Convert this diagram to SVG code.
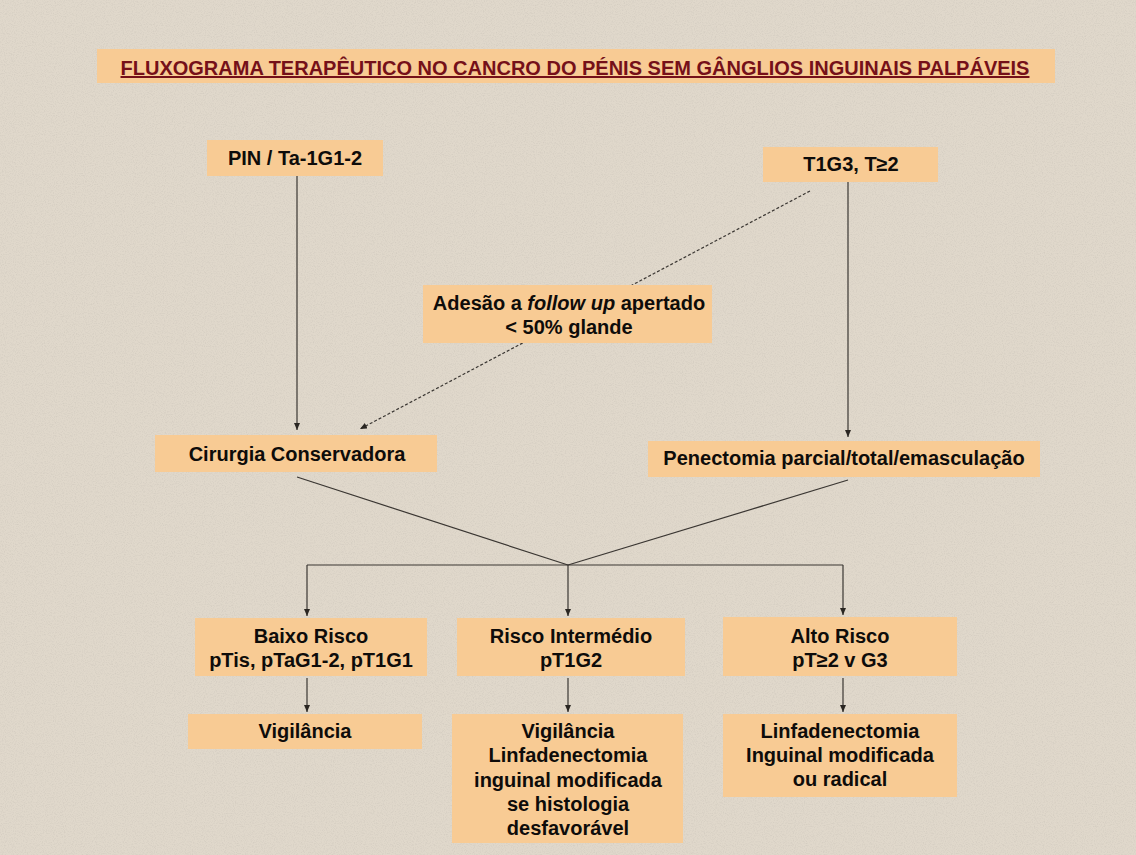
<svg xmlns="http://www.w3.org/2000/svg" width="1136" height="855" viewBox="0 0 1136 855">
  <style>
    .box { fill: #f8cb94; }
    .t { font-family: "Liberation Sans", Arial, sans-serif; font-weight: bold; font-size: 20px; fill: #0e0c0a; text-anchor: middle; }
    .title { font-family: "Liberation Sans", Arial, sans-serif; font-weight: bold; font-size: 20px; fill: #751019; text-anchor: middle; text-decoration: underline; }
    .ln { stroke: #3a3632; stroke-width: 1.2; fill: none; }
    .dash { stroke: #3a3632; stroke-width: 1.2; fill: none; stroke-dasharray: 3 2; }
  </style>
  <defs>
    <marker id="arr" markerUnits="userSpaceOnUse" markerWidth="8" markerHeight="7" refX="7" refY="3" orient="auto">
      <path d="M0,0 L7,3 L0,6 z" fill="#2a2622"/>
    </marker>
    <filter id="grain" x="0" y="0" width="100%" height="100%">
      <feTurbulence type="fractalNoise" baseFrequency="0.9" numOctaves="2" seed="3" result="n"/>
      <feColorMatrix type="matrix" values="0 0 0 0 0.45  0 0 0 0 0.42  0 0 0 0 0.38  0 0 0 -1.6 0.9" in="n" result="c"/>
      <feComposite in="c" in2="SourceGraphic" operator="in"/>
    </filter>
  </defs>

  <rect x="0" y="0" width="1136" height="855" fill="#e0d8cb"/>
  <rect x="0" y="0" width="1136" height="855" fill="#e0d8cb" filter="url(#grain)" opacity="0.35"/>

  <g id="connectors">
    <line class="ln" x1="297" y1="176" x2="297" y2="430" marker-end="url(#arr)"/>
    <line class="ln" x1="848" y1="182" x2="848" y2="437" marker-end="url(#arr)"/>
    <line class="dash" x1="810" y1="191" x2="360" y2="429" marker-end="url(#arr)"/>
    <line class="ln" x1="297" y1="477" x2="568" y2="565"/>
    <line class="ln" x1="848" y1="480" x2="568" y2="565"/>
    <line class="ln" x1="307" y1="565" x2="843" y2="565"/>
    <line class="ln" x1="307" y1="565" x2="307" y2="616" marker-end="url(#arr)"/>
    <line class="ln" x1="568" y1="565" x2="568" y2="616" marker-end="url(#arr)"/>
    <line class="ln" x1="843" y1="565" x2="843" y2="615" marker-end="url(#arr)"/>
    <line class="ln" x1="307" y1="678" x2="307" y2="712" marker-end="url(#arr)"/>
    <line class="ln" x1="568" y1="678" x2="568" y2="712" marker-end="url(#arr)"/>
    <line class="ln" x1="843" y1="678" x2="843" y2="712" marker-end="url(#arr)"/>
  </g>

  <g id="title">
    <rect class="box" x="97" y="49" width="958" height="34"/>
    <text class="title" x="575" y="75">FLUXOGRAMA TERAPÊUTICO NO CANCRO DO PÉNIS SEM GÂNGLIOS INGUINAIS PALPÁVEIS</text>
  </g>

  <g id="pin">
    <rect class="box" x="207" y="140" width="176" height="36"/>
    <text class="t" x="295" y="165">PIN / Ta-1G1-2</text>
  </g>

  <g id="t1g3">
    <rect class="box" x="763" y="147" width="175" height="35"/>
    <text class="t" x="851" y="171">T1G3, T≥2</text>
  </g>

  <g id="adesao">
    <rect class="box" x="423" y="285" width="289" height="58"/>
    <text class="t" x="569" y="310">Adesão a <tspan font-style="italic">follow up</tspan> apertado</text>
    <text class="t" x="569" y="334">&lt; 50% glande</text>
  </g>

  <g id="cirurgia">
    <rect class="box" x="155" y="435" width="282" height="37"/>
    <text class="t" x="297" y="461">Cirurgia Conservadora</text>
  </g>

  <g id="penectomia">
    <rect class="box" x="648" y="441" width="392" height="36"/>
    <text class="t" x="844" y="465">Penectomia parcial/total/emasculação</text>
  </g>

  <g id="baixo">
    <rect class="box" x="195" y="618" width="232" height="58"/>
    <text class="t" x="311" y="643">Baixo Risco</text>
    <text class="t" x="311" y="667">pTis, pTaG1-2, pT1G1</text>
  </g>

  <g id="intermedio">
    <rect class="box" x="457" y="618" width="228" height="58"/>
    <text class="t" x="571" y="643">Risco Intermédio</text>
    <text class="t" x="571" y="667">pT1G2</text>
  </g>

  <g id="alto">
    <rect class="box" x="723" y="617" width="234" height="59"/>
    <text class="t" x="840" y="643">Alto Risco</text>
    <text class="t" x="840" y="667">pT≥2 v G3</text>
  </g>

  <g id="vigilancia">
    <rect class="box" x="188" y="714" width="234" height="35"/>
    <text class="t" x="305" y="738">Vigilância</text>
  </g>

  <g id="vigilancia-linfa">
    <rect class="box" x="452" y="714" width="231" height="129"/>
    <text class="t" x="568" y="738">Vigilância</text>
    <text class="t" x="568" y="762">Linfadenectomia</text>
    <text class="t" x="568" y="787">inguinal modificada</text>
    <text class="t" x="568" y="811">se histologia</text>
    <text class="t" x="568" y="835">desfavorável</text>
  </g>

  <g id="linfa-radical">
    <rect class="box" x="723" y="714" width="234" height="83"/>
    <text class="t" x="840" y="738">Linfadenectomia</text>
    <text class="t" x="840" y="762">Inguinal modificada</text>
    <text class="t" x="840" y="786">ou radical</text>
  </g>
</svg>
